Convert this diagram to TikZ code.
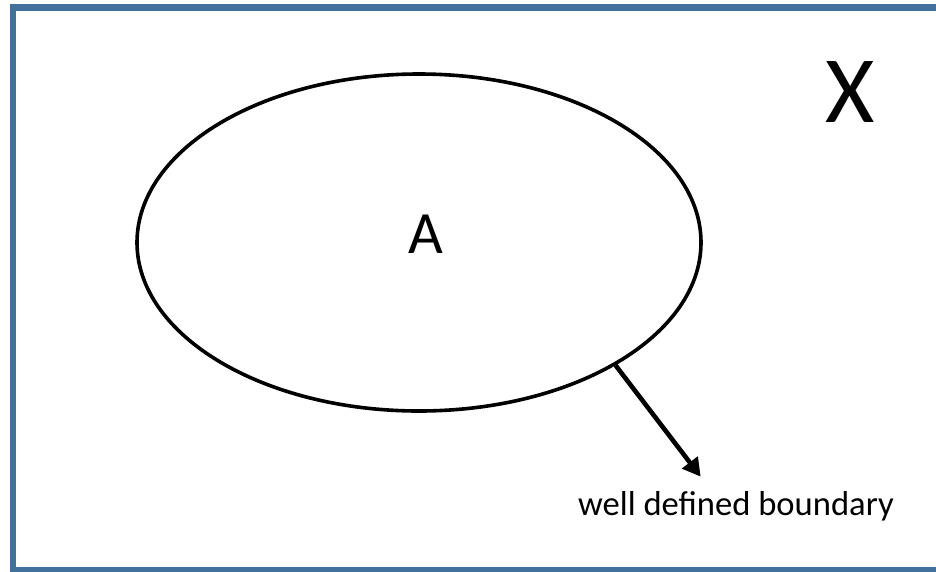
\documentclass[tikz,border=0pt]{standalone}
\usepackage{fontspec}
\setmainfont{Carlito}
\usetikzlibrary{shapes.geometric,arrows.meta}
\definecolor{frameblue}{HTML}{41719C}
\begin{document}
\begin{tikzpicture}[x=1pt,y=-1pt,
  setshape/.style={ellipse,draw,line width=3.6pt,inner sep=0pt,minimum width=564pt,minimum height=337pt},
  lbl/.style={inner sep=0pt,anchor=center}]
\useasboundingbox (0,0) rectangle (936,571);
\draw[frameblue,line width=6.5pt] (13,7.3) rectangle (945,570.5);
\node[setshape] (e) at (419,242.5) {};
\node[lbl,font=\fontsize{60}{60}\selectfont] (a) at (426,234) {A};
\node[lbl,font=\fontsize{95}{95}\selectfont] (x) at (850,92) {X};
\node[inner sep=0pt,anchor=base,font=\fontsize{34.6}{35}\selectfont] (b) at (736,515) {well defined boundary};
\coordinate (tip) at (700.7,476.7);
\draw[line width=4.6pt,-{Triangle[length=18pt,width=19pt]}] (e.-32) -- (tip);
\end{tikzpicture}
\end{document}
